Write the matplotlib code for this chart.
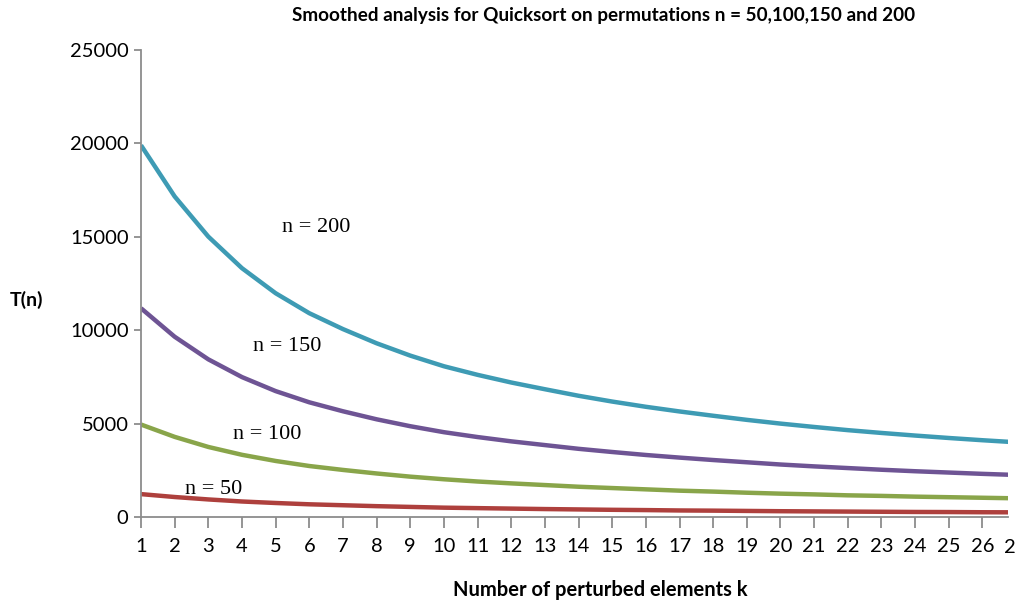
import matplotlib
matplotlib.use("Agg")
import matplotlib.pyplot as plt
import numpy as np

# perturbed elements k
k = np.arange(1, 28)

# T(n) readings per permutation size
t200 = [19900, 17160, 15010, 13320, 11980, 10910, 10060, 9300, 8640, 8070,
        7610, 7200, 6840, 6490, 6180, 5900, 5650, 5420, 5200, 5000,
        4820, 4650, 4500, 4360, 4230, 4110, 4000]
t150 = [11175, 9650, 8440, 7490, 6740, 6140, 5660, 5230, 4860, 4540,
        4280, 4050, 3850, 3650, 3480, 3320, 3180, 3050, 2930, 2810,
        2710, 2620, 2530, 2450, 2380, 2310, 2250]
t100 = [4950, 4290, 3750, 3330, 3000, 2730, 2520, 2330, 2160, 2020,
        1900, 1800, 1710, 1620, 1550, 1480, 1410, 1360, 1300, 1250,
        1210, 1160, 1130, 1090, 1060, 1030, 1000]
t50 = [1225, 1070, 940, 830, 750, 680, 630, 580, 540, 500,
       475, 450, 425, 405, 385, 370, 350, 340, 325, 310,
       300, 290, 280, 270, 265, 255, 250]

series = [(t200, "#3E9BB4", "n = 200", (5.2, 15490)),
          (t150, "#6E5494", "n = 150", (4.33, 9110)),
          (t100, "#89A54A", "n = 100", (3.73, 4390)),
          (t50, "#AE403D", "n = 50", (2.3, 1450))]

plt.rcParams['font.family'] = ['Lato', 'DejaVu Sans']

fig = plt.figure(figsize=(10.16, 6.03), dpi=100)
ax = fig.add_axes([141/1016, 1-517/603, (1008-141)/1016, (517-50)/603])

for vals, col, lab, pos in series:
    ax.plot(k, vals, color=col, lw=3.2, solid_capstyle='butt')
    ax.text(pos[0], pos[1], lab, family='Liberation Serif', fontsize=16,
            ha='left', va='center')

ax.set_xlim(1, 26.76)
ax.set_ylim(0, 25000)
ax.set_xticks(k[:26])
ax.set_yticks(np.arange(0, 25001, 5000))

for s in ['top', 'right']:
    ax.spines[s].set_visible(False)
for s in ['left', 'bottom']:
    ax.spines[s].set_color('#8C8C8C')
    ax.spines[s].set_linewidth(1.3)
ax.tick_params(axis='x', length=8, width=1.3, color='#8C8C8C', labelsize=14.5, pad=7)
ax.tick_params(axis='y', length=5, width=1.3, color='#8C8C8C', labelsize=14.5, pad=4)

# tick label of k = 27, cut by the figure edge
ax.text(27, -0.047, "27", transform=ax.get_xaxis_transform(), ha='center', va='top',
        fontsize=14.5, clip_on=False)

fig.text(604/1016, 1-15/603, "Smoothed analysis for Quicksort on permutations n = 50,100,150 and 200",
         ha='center', va='center', fontsize=13.6, fontweight='bold')
fig.text(26/1016, 1-300/603, "T(n)", ha='center', va='center', fontsize=14, fontweight='bold')
fig.text(600/1016, 1-590/603, "Number of perturbed elements k", ha='center', va='center',
         fontsize=14.5, fontweight='bold')

fig.savefig("out.png", dpi=100)
